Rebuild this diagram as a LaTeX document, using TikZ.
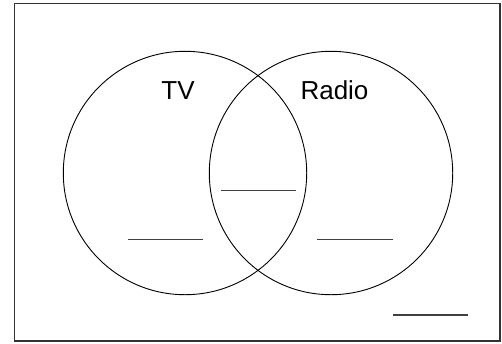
\documentclass[tikz,border=0pt]{standalone}
\usepackage{fontspec}
\setmainfont{Liberation Sans}
\begin{document}
\begin{tikzpicture}[x=1pt,y=-1pt,
  frame/.style={draw=black!80,line width=1.5pt},
  setcircle/.style={draw=black,line width=0.9pt},
  blank/.style={draw=black!75,line width=1.4pt},
  setlabel/.style={font=\fontsize{26}{30}\selectfont,inner sep=0pt,anchor=base}]
\useasboundingbox (0,0) rectangle (502,343);
\draw[frame] (14.5,3.5) rectangle (500,341);
\draw[setcircle] (185,173) circle[radius=121.7];
\draw[setcircle] (331,173) circle[radius=121.7];
\node[setlabel] (tv) at (178,99.5) {TV};
\node[setlabel] (radio) at (334.5,99.5) {Radio};
\coordinate (l1) at (128.3,239.3); \coordinate (l2) at (203.3,239.3);
\coordinate (m1) at (221,190.7); \coordinate (m2) at (296.3,190.7);
\coordinate (r1) at (317.3,239.3); \coordinate (r2) at (392.7,239.3);
\coordinate (o1) at (393.3,315); \coordinate (o2) at (468.3,315);
\draw[blank] (l1) -- (l2);
\draw[blank] (m1) -- (m2);
\draw[blank] (r1) -- (r2);
\draw[blank] (o1) -- (o2);
\end{tikzpicture}
\end{document}
